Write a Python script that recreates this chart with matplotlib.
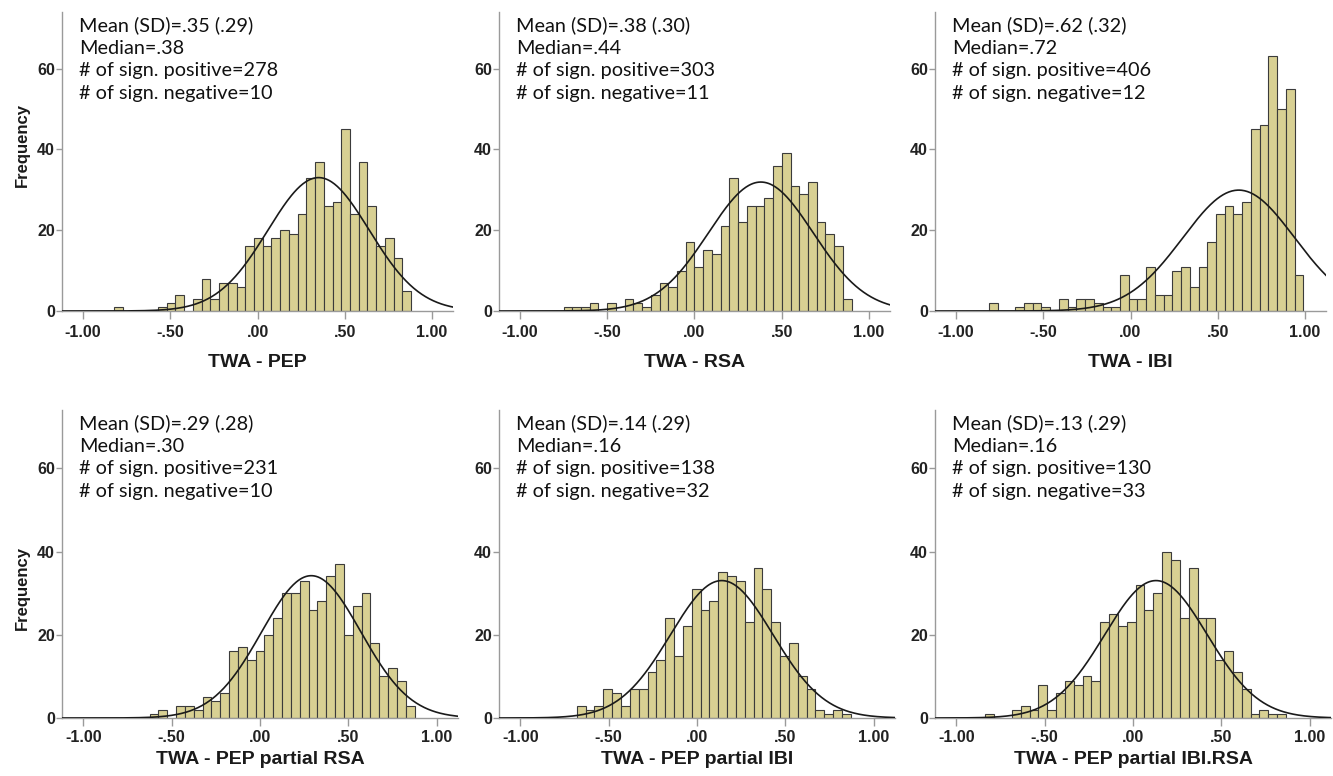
import numpy as np
import matplotlib
matplotlib.use("Agg")
import matplotlib.pyplot as plt

# ---- data (counts per 0.05-wide bin) ----
xlabels = ["TWA - PEP", "TWA - RSA", "TWA - IBI",
           "TWA - PEP partial RSA", "TWA - PEP partial IBI", "TWA - PEP partial IBI.RSA"]
means = [.35, .38, .62, .29, .14, .13]
sds = [.29, .30, .32, .28, .29, .29]
medians = [.38, .44, .72, .30, .16, .16]
n_pos = [278, 303, 406, 231, 138, 130]
n_neg = [10, 11, 12, 10, 32, 33]

bin_width = 0.05
bin_start = [-0.82, -0.75, -0.81, -0.625, -0.68, -0.835]

counts_pep = [1, 0, 0, 0, 0, 1, 2, 4, 0, 3, 8, 3, 7, 7, 6, 16, 18, 16, 18, 20, 19,
              24, 33, 37, 26, 27, 45, 24, 37, 26, 16, 18, 13, 5]
counts_rsa = [1, 1, 1, 2, 0, 2, 0, 3, 2, 1, 4, 7, 6, 10, 17, 11, 15, 14, 21, 33, 22,
              26, 26, 28, 36, 39, 31, 29, 32, 22, 19, 16, 3]
counts_ibi = [2, 0, 0, 1, 2, 2, 1, 0, 3, 1, 3, 3, 2, 1, 1, 9, 3, 3, 11, 4, 4, 10, 11,
              6, 11, 17, 24, 26, 24, 27, 45, 46, 63, 50, 55, 9]
counts_pep_rsa = [1, 2, 0, 3, 3, 2, 5, 4, 6, 16, 17, 14, 16, 20, 24, 30, 30, 33, 26,
                  28, 34, 37, 20, 27, 30, 18, 10, 12, 9, 3]
counts_pep_ibi = [3, 2, 3, 7, 6, 3, 7, 7, 11, 14, 24, 15, 22, 31, 26, 28, 35, 34, 33,
                  23, 36, 31, 23, 15, 18, 10, 7, 2, 1, 2, 1]
counts_pep_ibi_rsa = [1, 0, 0, 2, 3, 2, 8, 2, 6, 9, 8, 10, 9, 23, 25, 22, 23, 32, 26,
                      30, 40, 38, 24, 36, 24, 24, 14, 16, 11, 7, 1, 2, 1, 1]

all_counts = [counts_pep, counts_rsa, counts_ibi,
              counts_pep_rsa, counts_pep_ibi, counts_pep_ibi_rsa]


def fmt(v):
    return f"{v:.2f}".replace("0.", ".", 1)


W, H = 1333, 776
fig = plt.figure(figsize=(W / 100, H / 100), dpi=100)

# axes boxes in pixels: top, bottom, width (per row) and lefts (per column)
lefts = [62, 499, 935]
rows = [(12, 311, 391), (410, 718, 396)]
label_pads = [10, 4]

bar_color = "#d8d093"
edge_color = "#3b3b3b"
spine_color = "#9a9a9a"

for i, counts in enumerate(all_counts):
    r, c = divmod(i, 3)
    top, bot, width = rows[r]
    ax = fig.add_axes([lefts[c] / W, (H - bot) / H, width / W, (bot - top) / H])

    counts = np.array(counts)
    edges = bin_start[i] + bin_width * np.arange(len(counts))
    keep = counts > 0
    ax.bar(edges[keep], counts[keep], width=bin_width, align="edge",
           color=bar_color, edgecolor=edge_color, linewidth=0.8, zorder=2)

    # fitted normal curve
    n = counts.sum()
    xs = np.linspace(-1.12, 1.12, 400)
    ys = n * bin_width * np.exp(-0.5 * ((xs - means[i]) / sds[i]) ** 2) / (sds[i] * np.sqrt(2 * np.pi))
    ax.plot(xs, ys, color="#1a1a1a", linewidth=1.2, zorder=3)

    ax.set_xlim(-1.12, 1.12)
    ax.set_ylim(0, 74)
    ax.set_xticks([-1, -0.5, 0, 0.5, 1])
    ax.set_xticklabels(["-1.00", "-.50", ".00", ".50", "1.00"])
    ax.set_yticks([0, 20, 40, 60])
    for s in ["top", "right"]:
        ax.spines[s].set_visible(False)
    for s in ["left", "bottom"]:
        ax.spines[s].set_color(spine_color)
        ax.spines[s].set_linewidth(1.0)
    ax.tick_params(axis="x", length=6, width=1, color=spine_color, pad=4 if r == 0 else 3)
    ax.tick_params(axis="y", length=4, width=1, color=spine_color, pad=1)
    for lab in ax.get_xticklabels() + ax.get_yticklabels():
        lab.set_fontfamily("Liberation Sans")
        lab.set_fontweight("bold")
        lab.set_fontsize(11.5)
        lab.set_color("#222222")
    ax.set_xlabel(xlabels[i], fontfamily="Liberation Sans", fontweight="bold",
                  fontsize=14, labelpad=label_pads[r], color="#1a1a1a")

    txt = (f"Mean (SD)={fmt(means[i])} ({fmt(sds[i])})\n"
           f"Median={fmt(medians[i])}\n"
           f"# of sign. positive={n_pos[i]}\n"
           f"# of sign. negative={n_neg[i]}")
    fig.text((lefts[c] + 17) / W, (H - top - 4) / H, txt, ha="left", va="top",
             fontfamily="Lato", fontsize=14.3, linespacing=1.41, color="#111111")

for yc in [145, 588]:
    fig.text(22 / W, (H - yc) / H, "Frequency", rotation=90, ha="center", va="center",
             fontfamily="Liberation Sans", fontweight="bold", fontsize=12, color="#1a1a1a")

fig.savefig("out.png", dpi=100)
